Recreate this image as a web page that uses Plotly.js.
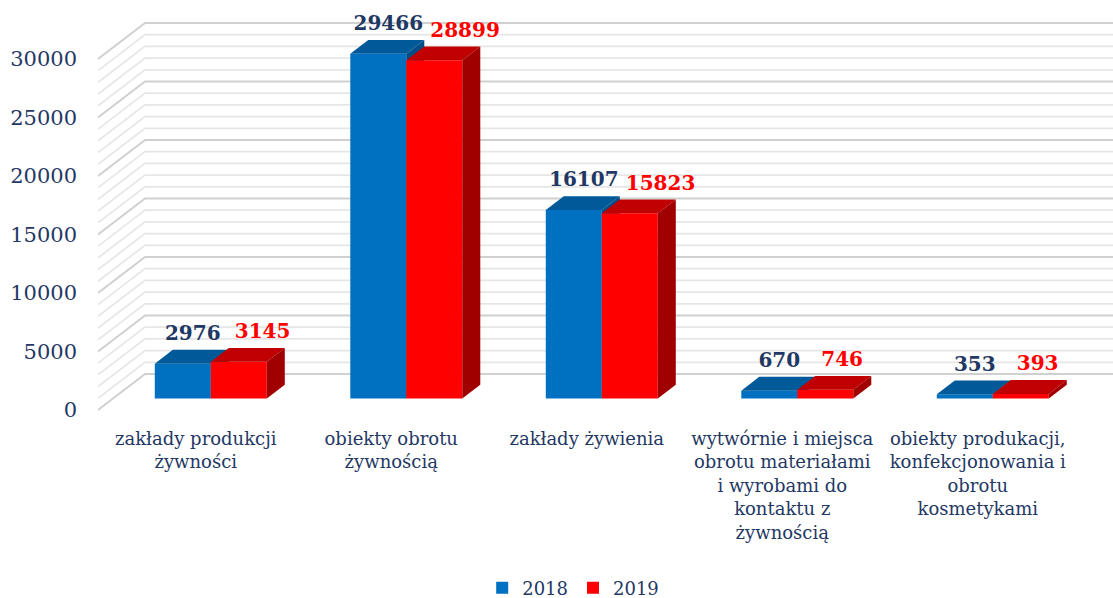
<!DOCTYPE html>
<html>
<head>
<meta charset="utf-8">
<script src="https://cdn.plot.ly/plotly-3.0.1.min.js"></script>
<style>html,body{margin:0;padding:0;background:#fff;}#chart{width:1113px;height:598px;}</style>
</head>
<body>
<div id="chart"></div>
<script>
// ---- data ----
const categories = [
  "zakłady produkcji<br>żywności",
  "obiekty obrotu<br>żywnością",
  "zakłady żywienia",
  "wytwórnie i miejsca<br>obrotu materiałami<br>i wyrobami do<br>kontaktu z<br>żywnością",
  "obiekty produkacji,<br>konfekcjonowania i<br>obrotu<br>kosmetykami"
];
const values2018 = [2976, 29466, 16107, 670, 353];
const values2019 = [3145, 28899, 15823, 746, 393];
const seriesNames = ["2018", "2019"];
const yTicks = [0, 5000, 10000, 15000, 20000, 25000, 30000];

// ---- geometry (style) ----
const W = 1113, H = 598;
const ML = 98, MT = 0, PLOT_H = 420;
const PX_PER_CAT = 195.5;
const PX_PER_VAL = 351 / 30000;
const xMin = -0.5;
const xMax = xMin + (W - ML) / PX_PER_CAT;
const yMin = -(PLOT_H - 410) / PX_PER_VAL;
const yMax = yMin + PLOT_H / PX_PER_VAL;
const DXU = 47 / PX_PER_CAT;       // full depth shift in x units
const DYU = 36 / PX_PER_VAL;       // full depth shift in y units
const D0 = 0.32, DEPTH = 0.383;    // bar front depth & bar depth
const BW = 56 / PX_PER_CAT;        // bar width
const LABEL_LIFT = 5 / PX_PER_VAL; // extra gap above bar tops

const navy = "#1F3864";
const font = "DejaVu Serif";

const cats = categories.map((_, i) => i);
const base = D0 * DYU;

function barX(i) { return i + D0 * DXU; }

function faces(vals, off) {
  const tx = [], ty = [], sx = [], sy = [];
  const ddx = DEPTH * DXU, ddy = DEPTH * DYU;
  vals.forEach((v, i) => {
    const xl = barX(i) + off, xr = xl + BW, t = base + v;
    tx.push(xl, xr, xr + ddx, xl + ddx, xl, null);
    ty.push(t, t, t + ddy, t + ddy, t, null);
    sx.push(xr, xr, xr + ddx, xr + ddx, xr, null);
    sy.push(base, t, t + ddy, base + ddy, base, null);
  });
  return { tx, ty, sx, sy };
}

// ---- wall grid lines ----
const minX = [], minY = [], majX = [], majY = [];
for (let v = 0; v <= 30000; v += 1000) {
  const arrX = (v % 5000 === 0) ? majX : minX;
  const arrY = (v % 5000 === 0) ? majY : minY;
  arrX.push(xMin, xMin + DXU, xMax, null);
  arrY.push(v, v + DYU, v + DYU, null);
}

const traces = [];
traces.push({ type: "scatter", mode: "lines", x: minX, y: minY, xaxis: "x", yaxis: "y",
  line: { color: "#e6e6e6", width: 1.7 }, hoverinfo: "skip", showlegend: false });
traces.push({ type: "scatter", mode: "lines", x: majX, y: majY, xaxis: "x", yaxis: "y",
  line: { color: "#d0d0d0", width: 2 }, hoverinfo: "skip", showlegend: false });

const series = [
  { vals: values2018, name: seriesNames[0], ax: "x2", off: -BW, front: "#0070C0", top: "#005A9A", side: "#004E88", label: navy },
  { vals: values2019, name: seriesNames[1], ax: "x3", off: 0, front: "#FF0000", top: "#C00000", side: "#A00000", label: "#FF0000" }
];

series.forEach((s, k) => {
  traces.push({ type: "bar", x: cats.map(barX), y: s.vals, base: s.vals.map(() => base),
    offset: s.off, width: BW, name: s.name, xaxis: s.ax, yaxis: "y",
    marker: { color: s.front, line: { width: 0 } }, hoverinfo: "skip", showlegend: true });
  const f = faces(s.vals, s.off);
  traces.push({ type: "scatter", mode: "lines", x: f.tx, y: f.ty, fill: "toself", fillcolor: s.top,
    line: { width: 0, color: s.top }, xaxis: s.ax, yaxis: "y", hoverinfo: "skip", showlegend: false });
  traces.push({ type: "scatter", mode: "lines", x: f.sx, y: f.sy, fill: "toself", fillcolor: s.side,
    line: { width: 0, color: s.side }, xaxis: s.ax, yaxis: "y", hoverinfo: "skip", showlegend: false });
  const lx = k === 0
    ? cats.map(i => barX(i) + s.off + BW / 2 + 0.5 * DEPTH * DXU + 1 / PX_PER_CAT)
    : cats.map(i => barX(i) + 24 / PX_PER_CAT);
  traces.push({ type: "scatter", mode: "text", x: lx, y: s.vals.map(v => base + v + DEPTH * DYU + LABEL_LIFT),
    text: s.vals.map(String), textposition: k === 0 ? "top center" : "top right",
    textfont: { family: font, size: 20, color: s.label, weight: "bold" },
    xaxis: s.ax, yaxis: "y", hoverinfo: "skip", showlegend: false, cliponaxis: false });
});

const layout = {
  width: W, height: H,
  margin: { l: ML, r: 0, t: MT, b: H - PLOT_H - MT },
  paper_bgcolor: "#ffffff", plot_bgcolor: "rgba(0,0,0,0)",
  showlegend: true,
  barmode: "overlay",
  legend: { orientation: "h", xref: "container", yref: "container", x: 0.515, xanchor: "center",
    y: 1 - 588 / H, yanchor: "middle", font: { family: font, size: 18, color: navy },
    itemwidth: 30, tracegroupgap: 0, traceorder: "normal" },
  xaxis: { range: [xMin, xMax], tickmode: "array", tickvals: cats, ticktext: categories,
    showgrid: false, zeroline: false, showline: false, ticks: "", ticklabelstandoff: 6,
    tickfont: { family: font, size: 18, color: navy }, fixedrange: true },
  xaxis2: { overlaying: "x", matches: "x", visible: false, range: [xMin, xMax] },
  xaxis3: { overlaying: "x", matches: "x", visible: false, range: [xMin, xMax] },
  yaxis: { range: [yMin, yMax], tickmode: "array", tickvals: yTicks, ticktext: yTicks.map(String),
    showgrid: false, zeroline: false, showline: false, ticks: "", ticklabelstandoff: 20,
    tickfont: { family: font, size: 21, color: navy }, fixedrange: true }
};

Plotly.newPlot("chart", traces, layout, { displayModeBar: false, staticPlot: true });
</script>
</body>
</html>
